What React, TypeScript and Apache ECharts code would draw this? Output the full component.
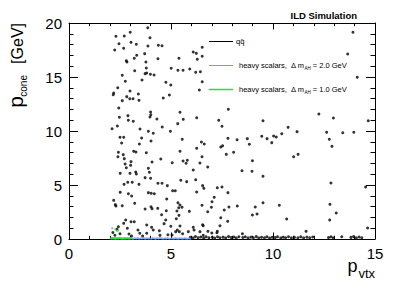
import React, { useEffect, useRef } from "react";
import * as echarts from "echarts";

const FONT = "'Liberation Sans', Arial, Helvetica, sans-serif";

const xTickRange = [0, 15];
const yTickRange = [0, 20];

const qqPoints: number[][] = [
  [3.86, 19.56], [2.30, 18.77], [2.71, 18.80], [3.00, 19.14], [3.97, 18.64], [2.45, 18.08], [3.04, 18.21],
  [3.30, 18.03], [3.87, 17.87], [4.38, 17.94], [4.56, 17.90], [2.24, 17.50], [2.68, 17.66], [6.09, 17.31],
  [6.24, 17.19], [6.53, 16.92], [3.32, 17.01], [3.20, 16.73], [3.71, 17.16], [4.36, 16.69], [5.39, 16.73],
  [6.29, 16.64], [2.81, 16.51], [2.84, 16.39], [3.77, 16.39], [3.79, 15.83], [5.01, 15.81], [5.34, 15.62],
  [5.59, 15.62], [5.92, 15.74], [6.21, 15.44], [6.44, 15.49], [3.22, 15.58], [3.73, 15.31], [3.81, 15.37],
  [3.99, 15.25], [4.17, 15.19], [2.61, 15.16], [2.76, 14.60], [3.58, 14.72], [4.75, 14.51], [4.99, 14.26],
  [6.53, 14.56], [2.39, 14.01], [6.39, 13.80], [2.99, 13.70], [2.19, 13.52], [2.17, 13.36], [3.40, 13.43],
  [2.83, 13.18], [2.98, 12.99], [3.14, 12.99], [3.43, 12.84], [2.61, 12.81], [4.92, 13.33], [4.62, 13.06],
  [2.44, 12.13], [4.00, 11.76], [4.01, 11.51], [3.97, 11.30], [5.44, 11.73], [2.89, 11.42], [2.47, 11.27],
  [2.91, 10.99], [3.15, 10.90], [4.31, 11.11], [5.60, 11.08], [6.26, 11.23], [2.37, 10.46], [2.11, 10.21],
  [3.48, 10.19], [4.57, 10.37], [5.33, 10.68], [6.53, 17.75],
  [2.50, 9.42], [2.68, 9.42], [2.58, 8.89], [3.56, 9.35], [3.89, 9.97], [4.13, 9.79], [4.97, 9.97],
  [3.45, 8.80], [4.02, 9.07], [5.55, 9.23], [6.49, 8.98], [6.63, 8.80], [2.42, 8.03], [2.40, 7.62],
  [2.66, 7.81], [2.71, 7.44], [3.17, 8.12], [3.28, 8.06], [3.79, 7.99], [5.44, 8.12], [6.26, 8.40],
  [2.75, 6.94], [2.81, 6.60], [3.04, 7.16], [3.02, 6.82], [4.07, 7.13], [4.50, 7.41], [5.06, 7.06],
  [5.59, 7.22], [5.80, 7.29], [5.74, 7.01], [6.42, 7.04], [6.80, 6.67], [3.89, 6.55], [3.94, 6.18],
  [2.51, 6.08], [2.99, 6.08], [3.27, 6.20], [3.30, 6.02], [3.73, 5.68], [4.00, 5.62], [6.09, 6.39],
  [2.70, 5.06], [2.88, 5.25], [3.10, 5.25], [3.43, 5.06], [4.36, 5.16], [4.56, 5.16], [4.82, 4.94],
  [5.08, 4.47], [5.21, 4.47], [5.48, 5.44], [5.77, 5.31], [6.21, 5.49], [6.55, 4.94], [6.26, 4.35],
  [2.51, 4.32], [2.91, 4.19], [3.07, 3.98], [3.89, 4.29], [4.03, 4.23], [4.18, 4.19], [4.79, 3.70],
  [2.19, 3.58], [2.27, 3.18], [2.30, 3.06], [2.61, 3.08], [3.22, 3.31], [3.73, 2.78], [4.02, 2.99],
  [4.07, 2.81], [4.35, 2.84], [5.34, 3.36], [5.44, 3.15], [5.38, 2.90], [5.54, 2.94], [5.90, 2.56],
  [5.29, 2.59], [5.39, 2.19], [4.77, 2.62], [4.54, 2.25], [5.26, 1.88], [6.52, 3.12], [6.80, 2.53],
  [2.78, 1.76], [3.04, 1.60], [3.20, 1.60], [2.68, 1.45], [2.42, 1.14], [2.86, 0.99], [3.81, 1.30],
  [4.05, 1.08], [4.13, 0.83], [4.74, 1.76], [4.66, 1.42], [4.99, 1.18], [5.44, 1.20], [5.23, 0.68],
  [5.31, 0.83], [5.41, 0.68], [6.09, 1.08], [6.13, 0.83], [5.85, 0.68], [6.42, 0.68], [6.58, 0.34],
  [2.50, 0.49], [2.94, 0.46], [3.07, 0.28], [3.38, 0.83], [3.47, 0.53], [3.61, 0.28], [3.81, 0.53],
  [4.43, 0.77], [4.46, 0.34], [4.85, 0.40], [5.05, 0.37], [5.57, 0.49], [2.15, 0.60], [2.25, 0.35],
  [2.35, 0.90],
  [7.81, 12.01], [7.34, 10.99], [7.50, 10.44], [9.51, 10.95], [12.25, 11.57], [12.96, 11.20], [14.67, 10.95],
  [10.74, 10.34], [11.18, 9.94], [10.43, 9.75], [10.03, 9.54], [10.16, 9.44], [9.45, 9.51], [9.71, 9.29],
  [9.94, 8.92], [8.74, 9.29], [8.84, 8.77], [8.24, 9.19], [7.79, 9.32], [7.53, 8.64], [7.44, 8.52],
  [7.71, 7.84], [8.07, 8.03], [12.63, 9.88], [12.76, 9.23], [12.89, 8.58], [13.42, 9.84], [13.96, 9.88],
  [11.23, 7.84], [11.01, 7.62], [6.52, 7.62], [8.99, 7.25], [8.48, 6.32], [8.97, 6.27], [9.51, 5.81],
  [6.61, 4.69], [7.27, 4.75], [7.50, 4.81], [7.79, 4.29], [7.12, 3.86], [7.01, 3.45], [6.98, 2.94],
  [7.61, 2.69], [7.84, 2.96], [8.25, 3.06], [9.13, 2.96], [9.51, 3.36], [8.99, 2.22], [9.22, 2.31],
  [10.31, 3.12], [10.67, 1.85], [7.44, 1.97], [7.78, 1.64], [7.40, 1.23], [6.55, 1.32], [6.58, 1.23],
  [6.81, 0.71], [7.00, 0.56], [7.27, 0.71], [7.25, 0.58], [8.50, 0.49], [12.84, 5.19], [14.54, 4.81],
  [12.79, 3.21], [13.10, 2.41], [12.78, 1.76], [14.64, 1.02], [11.62, 0.71], [13.37, 0.21],
  [13.92, 19.14], [13.66, 17.13], [14.13, 14.97],
  [5.95, 0.15], [6.08, 0.10], [6.20, 0.22], [6.33, 0.12], [6.46, 0.18], [6.60, 0.08], [6.72, 0.20],
  [6.86, 0.12], [7.02, 0.16], [7.14, 0.09], [7.28, 0.20], [7.40, 0.12], [7.55, 0.17], [7.68, 0.10],
  [7.82, 0.22], [7.95, 0.13], [8.08, 0.18], [8.20, 0.10], [8.33, 0.21], [8.52, 0.14], [8.64, 0.20],
  [8.78, 0.10], [8.92, 0.17], [9.04, 0.12], [9.18, 0.22], [9.30, 0.10], [9.44, 0.16], [9.58, 0.12],
  [9.70, 0.20], [9.83, 0.09], [9.96, 0.16], [10.10, 0.13], [10.22, 0.20], [10.38, 0.10], [10.50, 0.17],
  [10.62, 0.12], [10.76, 0.21], [10.90, 0.10], [11.05, 0.15], [11.22, 0.12], [11.36, 0.20], [11.50, 0.10],
  [11.66, 0.17], [11.80, 0.12], [11.95, 0.19], [12.72, 0.14], [12.84, 0.20], [12.96, 0.10], [13.82, 0.15],
  [13.95, 0.22], [14.08, 0.10], [14.22, 0.18], [14.35, 0.12],
];

const scalars20Points: number[][] = [
  [2.12, 1.0], [2.10, 0.05], [2.18, 0.08], [2.26, 0.03], [2.33, 0.07], [2.41, 0.04], [2.47, 0.09],
  [2.55, 0.05], [2.62, 0.02], [2.70, 0.08], [2.77, 0.04], [2.85, 0.06], [2.93, 0.03], [3.00, 0.09],
  [3.08, 0.05], [3.14, 0.02], [3.22, 0.07], [3.29, 0.04], [3.37, 0.08], [3.44, 0.03], [3.52, 0.06],
  [3.58, 0.05], [3.66, 0.09], [3.73, 0.02], [3.81, 0.07], [3.88, 0.04], [3.95, 0.06], [4.03, 0.03],
  [4.10, 0.08], [4.18, 0.05], [4.25, 0.02], [4.31, 0.07], [4.40, 0.04], [4.47, 0.09], [4.55, 0.05],
  [4.62, 0.03], [4.70, 0.06], [4.77, 0.04], [4.84, 0.08], [4.92, 0.02], [5.00, 0.06], [5.06, 0.05],
  [5.14, 0.03], [5.21, 0.07], [5.29, 0.04], [5.36, 0.02], [5.43, 0.06], [5.51, 0.05], [5.58, 0.03],
  [5.66, 0.07], [5.72, 0.04], [5.80, 0.02], [5.88, 0.05], [5.95, 0.03], [8.96, 0.03],
];

const scalars10Points: number[][] = [
  [2.05, 0.05], [2.10, 0.10], [2.16, 0.04], [2.22, 0.08], [2.28, 0.03], [2.35, 0.09], [2.41, 0.05],
  [2.48, 0.10], [2.55, 0.04], [2.62, 0.07], [2.70, 0.03], [2.77, 0.09], [2.84, 0.05], [2.90, 0.08],
  [2.97, 0.04], [3.03, 0.06], [2.27, 0.90], [2.35, 0.75], [2.42, 0.80],
];

const legendLabels = [
  "qq\u0304",
  "{a|heavy scalars,  \u0394 m}{s|AH}{a| = 2.0 GeV}",
  "{a|heavy scalars,  \u0394 m}{s|AH}{a| = 1.0 GeV}",
];
const seriesColors = ["#000000", "#6f9be9", "#22e622"];

function axis(kind: "x" | "y", position: string, showLabel: boolean, range: number[]) {
  const isX = kind === "x";
  return {
    type: "value",
    position,
    min: range[0],
    max: range[1],
    interval: 5,
    axisLine: { show: true, onZero: false, lineStyle: { color: "#000", width: 1 } },
    axisTick: { show: true, inside: true, length: isX ? 6.5 : 9, lineStyle: { color: "#000", width: 1 } },
    minorTick: { show: true, splitNumber: 5, length: isX ? 3.2 : 4.5, lineStyle: { color: "#000", width: 1 } },
    axisLabel: { show: showLabel, fontSize: 15, color: "#000", margin: 7, fontFamily: FONT },
    splitLine: { show: false },
    minorSplitLine: { show: false },
  };
}

export default function App() {
  const ref = useRef<HTMLDivElement>(null);
  useEffect(() => {
    if (!ref.current) return;
    const chart = echarts.init(ref.current, undefined, { renderer: "svg" });
    const legendRows = [41.5, 65.5, 89.5];
    const graphic: any[] = [
      {
        type: "text", x: 357, y: 15,
        style: { text: "ILD Simulation", fontSize: 9.5, fontWeight: "bold", fontFamily: FONT, fill: "#000",
          align: "right", textAlign: "right", verticalAlign: "middle", textVerticalAlign: "middle" },
      },
      {
        type: "text", x: 17.8, y: 23, rotation: Math.PI / 2,
        style: { text: "[GeV]", fontSize: 16, fontFamily: FONT, fill: "#000",
          align: "right", textAlign: "right", verticalAlign: "middle", textVerticalAlign: "middle" },
      },
      {
        type: "text", x: 23, y: 75, rotation: Math.PI / 2,
        style: { text: "cone", fontSize: 10, fontFamily: FONT, fill: "#000",
          align: "right", textAlign: "right", verticalAlign: "middle", textVerticalAlign: "middle" },
      },
      {
        type: "text", x: 15.7, y: 96, rotation: Math.PI / 2,
        style: { text: "p", fontSize: 21, fontFamily: FONT, fill: "#000",
          align: "right", textAlign: "right", verticalAlign: "middle", textVerticalAlign: "middle" },
      },
      {
        type: "text", x: 357.5, y: 265.8,
        style: { text: "p", fontSize: 18, fontFamily: FONT, fill: "#000",
          align: "right", textAlign: "right", verticalAlign: "middle", textVerticalAlign: "middle" },
      },
      {
        type: "text", x: 375, y: 273.2,
        style: { text: "vtx", fontSize: 13, fontFamily: FONT, fill: "#000",
          align: "right", textAlign: "right", verticalAlign: "middle", textVerticalAlign: "middle" },
      },
    ];
    legendRows.forEach((ly, i) => {
      graphic.push({
        type: "line",
        shape: { x1: 209, y1: ly, x2: 233, y2: ly },
        style: { stroke: seriesColors[i], lineWidth: i === 2 ? 1.5 : 1 },
      });
      graphic.push({
        type: "text", x: i === 0 ? 236 : 239, y: ly,
        style: {
          text: legendLabels[i], fontSize: 7.5, fontFamily: FONT, fill: "#000",
          align: "left", textAlign: "left", verticalAlign: "middle", textVerticalAlign: "middle",
          rich: {
            a: { fontSize: 7.5, fontFamily: FONT, fill: "#000", lineHeight: 10 },
            s: { fontSize: 4.5, fontFamily: FONT, fill: "#000", lineHeight: 5, verticalAlign: "bottom" },
          },
        },
      });
    });

    chart.setOption({
      animation: false,
      backgroundColor: "#ffffff",
      grid: { left: 69, top: 23, width: 306, height: 216, containLabel: false, outerBoundsMode: "none" },
      xAxis: [axis("x", "bottom", true, xTickRange), axis("x", "top", false, xTickRange)],
      yAxis: [axis("y", "left", true, yTickRange), axis("y", "right", false, yTickRange)],
      series: [
        {
          type: "scatter", name: "qq", xAxisIndex: 0, yAxisIndex: 0, data: qqPoints,
          symbol: "circle", symbolSize: 3, itemStyle: { color: seriesColors[0] }, clip: false,
        },
        {
          type: "scatter", name: "s20", xAxisIndex: 0, yAxisIndex: 0, data: scalars20Points,
          symbol: "circle", symbolSize: 2.2, itemStyle: { color: seriesColors[1] }, clip: false,
        },
        {
          type: "scatter", name: "s10", xAxisIndex: 0, yAxisIndex: 0, data: scalars10Points,
          symbol: "circle", symbolSize: 2.2, itemStyle: { color: seriesColors[2] }, clip: false,
        },
      ],
      graphic,
    });
    return () => chart.dispose();
  }, []);
  return (
    <div
      ref={ref}
      style={{ position: "fixed", left: 0, top: 0, width: 407, height: 292, background: "#fff" }}
    />
  );
}
